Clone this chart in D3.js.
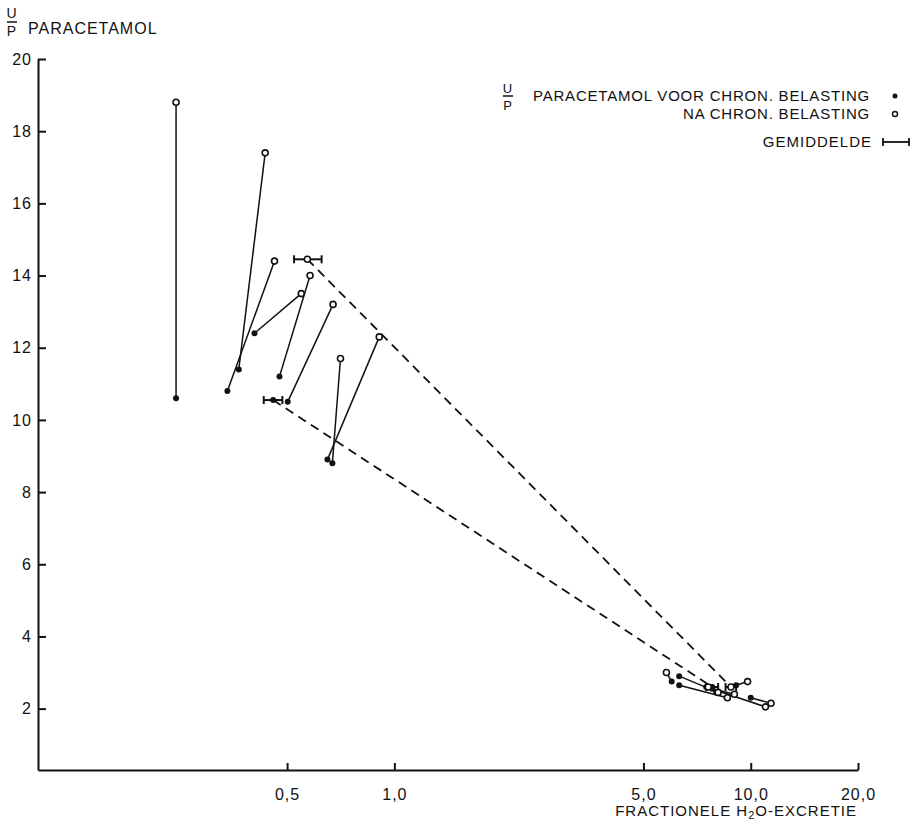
<!DOCTYPE html>
<html lang="nl">
<head>
  <meta charset="UTF-8">
  <title>U/P paracetamol vs fractionele H2O-excretie</title>
  <script src="https://d3js.org/d3.v7.min.js"></script>
  <style>
    body { margin: 0; background: #fff; }
    text { font-family: "Liberation Sans", Arial, sans-serif; fill: #111; letter-spacing: 1px; }
    .axis path, .axis line { stroke: #111; stroke-width: 2; }
    .axis text { font-size: 16px; }
  </style>
</head>
<body>
  <div id="chart"></div>

  <script>
    // ticks
    const xTicks = [0.5, 1, 5, 10, 20];
    const xTickLabels = ["0,5", "1,0", "5,0", "10,0", "20,0"];
    const yTicks = [2, 4, 6, 8, 10, 12, 14, 16, 18, 20];

    // links: voor chron. belasting (dicht), na chron. belasting (open)
    const voorX = [0.244, 0.366, 0.340, 0.405, 0.476, 0.502, 0.670, 0.649];
    const voorY = [10.6, 11.4, 10.8, 12.4, 11.2, 10.5, 8.8, 8.9];
    const naX   = [0.244, 0.434, 0.461, 0.548, 0.580, 0.673, 0.706, 0.907];
    const naY   = [18.8, 17.4, 14.4, 13.5, 14.0, 13.2, 11.7, 12.3];

    // rechtse groep
    const voorX2 = [6.0, 6.3, 6.3, 7.5, 7.8, 8.0, 9.1, 10.0];
    const voorY2 = [2.75, 2.9, 2.65, 2.6, 2.55, 2.45, 2.65, 2.3];
    const naX2   = [5.8, 8.1, 8.6, 11.0, 9.0, 7.6, 9.8, 11.4];
    const naY2   = [3.0, 2.45, 2.3, 2.05, 2.4, 2.6, 2.75, 2.15];

    // gemiddelden [voor, na]
    const meanLeftX  = [0.457, 0.570];
    const meanLeftY  = [10.55, 14.45];
    const meanLeftLo = [0.430, 0.523];
    const meanLeftHi = [0.485, 0.625];
    const meanRightX  = [7.8, 8.8];
    const meanRightY  = [2.6, 2.6];
    const meanRightLo = [7.5, 8.5];
    const meanRightHi = [8.1, 9.1];

    const W = 914, H = 823;
    const svg = d3.select("#chart").append("svg")
                  .attr("width", W).attr("height", H)
                  .style("background", "#fff");

    const x = d3.scaleLog().domain([0.1, 20]).range([38, 858]);
    const y = d3.scaleLinear().domain([0.3, 20]).range([770, 59]);

    // assen
    svg.append("g").attr("class", "axis")
       .attr("transform", `translate(0,${y(0.3)})`)
       .call(d3.axisBottom(x).tickValues(xTicks)
               .tickFormat((d, i) => xTickLabels[i])
               .tickSizeInner(-7).tickSizeOuter(0).tickPadding(19));

    svg.append("g").attr("class", "axis")
       .attr("transform", `translate(${x(0.1)},0)`)
       .call(d3.axisLeft(y).tickValues(yTicks)
               .tickSizeInner(-8).tickSizeOuter(0).tickPadding(6));

    // as-titels
    const yt = svg.append("g").attr("transform", "translate(12,0)");
    yt.append("text").attr("x", 0).attr("y", 18).attr("text-anchor", "middle")
      .style("font-size", "14px").text("U");
    yt.append("line").attr("x1", -5).attr("x2", 5).attr("y1", 22).attr("y2", 22)
      .attr("stroke", "#111").attr("stroke-width", 1.5);
    yt.append("text").attr("x", 0).attr("y", 36).attr("text-anchor", "middle")
      .style("font-size", "14px").text("P");
    yt.append("text").attr("x", 16).attr("y", 34).style("font-size", "16px").text("PARACETAMOL");

    const xt = svg.append("text").attr("x", 857).attr("y", 816)
                  .attr("text-anchor", "end").style("font-size", "15px");
    xt.append("tspan").text("FRACTIONELE  H");
    xt.append("tspan").attr("dy", 3).style("font-size", "11px").text("2");
    xt.append("tspan").attr("dy", -3).text("O-EXCRETIE");

    // koppels
    const pairs = voorX.map((d, i) => ({x0: d, y0: voorY[i], x1: naX[i], y1: naY[i]}))
      .concat(voorX2.map((d, i) => ({x0: d, y0: voorY2[i], x1: naX2[i], y1: naY2[i]})));

    // gestreepte lijnen tussen gemiddelden
    [0, 1].forEach(i => {
      svg.append("line")
         .attr("x1", x(meanLeftX[i])).attr("y1", y(meanLeftY[i]))
         .attr("x2", x(meanRightX[i])).attr("y2", y(meanRightY[i]))
         .attr("stroke", "#111").attr("stroke-width", 1.8)
         .attr("stroke-dasharray", "9,6");
    });

    svg.selectAll(".pair").data(pairs).enter().append("line")
       .attr("x1", d => x(d.x0)).attr("y1", d => y(d.y0))
       .attr("x2", d => x(d.x1)).attr("y2", d => y(d.y1))
       .attr("stroke", "#111").attr("stroke-width", 1.5);

    // foutbalken gemiddelde
    const means = [0, 1].map(i => ({x: meanLeftX[i], y: meanLeftY[i], lo: meanLeftLo[i], hi: meanLeftHi[i]}))
      .concat([0, 1].map(i => ({x: meanRightX[i], y: meanRightY[i], lo: meanRightLo[i], hi: meanRightHi[i]})));

    const mg = svg.selectAll(".mean").data(means).enter().append("g");
    mg.append("line").attr("x1", d => x(d.lo)).attr("x2", d => x(d.hi))
      .attr("y1", d => y(d.y)).attr("y2", d => y(d.y))
      .attr("stroke", "#111").attr("stroke-width", 2);
    mg.append("line").attr("x1", d => x(d.lo)).attr("x2", d => x(d.lo))
      .attr("y1", d => y(d.y) - 4).attr("y2", d => y(d.y) + 4)
      .attr("stroke", "#111").attr("stroke-width", 2);
    mg.append("line").attr("x1", d => x(d.hi)).attr("x2", d => x(d.hi))
      .attr("y1", d => y(d.y) - 4).attr("y2", d => y(d.y) + 4)
      .attr("stroke", "#111").attr("stroke-width", 2);

    // punten
    const allVoor = voorX.map((d, i) => [d, voorY[i]]).concat(voorX2.map((d, i) => [d, voorY2[i]]))
      .concat([[meanLeftX[0], meanLeftY[0]], [meanRightX[0], meanRightY[0]]]);
    const allNa = naX.map((d, i) => [d, naY[i]]).concat(naX2.map((d, i) => [d, naY2[i]]))
      .concat([[meanLeftX[1], meanLeftY[1]], [meanRightX[1], meanRightY[1]]]);

    svg.selectAll(".voor").data(allVoor).enter().append("circle")
       .attr("cx", d => x(d[0])).attr("cy", d => y(d[1])).attr("r", 3)
       .attr("fill", "#111");
    svg.selectAll(".na").data(allNa).enter().append("circle")
       .attr("cx", d => x(d[0])).attr("cy", d => y(d[1])).attr("r", 3)
       .attr("fill", "#fff").attr("stroke", "#111").attr("stroke-width", 1.6);

    // legenda
    const lg = svg.append("g");
    lg.append("text").attr("x", 508).attr("y", 93).attr("text-anchor", "middle")
      .style("font-size", "13px").text("U");
    lg.append("line").attr("x1", 503).attr("x2", 513).attr("y1", 96).attr("y2", 96)
      .attr("stroke", "#111").attr("stroke-width", 1.5);
    lg.append("text").attr("x", 508).attr("y", 110).attr("text-anchor", "middle")
      .style("font-size", "13px").text("P");
    lg.append("text").attr("x", 870).attr("y", 101).attr("text-anchor", "end")
      .style("font-size", "15px").style("letter-spacing", "0.8px")
      .text("PARACETAMOL  VOOR  CHRON. BELASTING");
    lg.append("text").attr("x", 870).attr("y", 119).attr("text-anchor", "end")
      .style("font-size", "15px").style("letter-spacing", "0.8px")
      .text("NA  CHRON. BELASTING");
    lg.append("circle").attr("cx", 895).attr("cy", 96).attr("r", 2.5).attr("fill", "#111");
    lg.append("circle").attr("cx", 895).attr("cy", 114).attr("r", 2.5)
      .attr("fill", "#fff").attr("stroke", "#111").attr("stroke-width", 1.4);
    lg.append("text").attr("x", 872).attr("y", 147).attr("text-anchor", "end")
      .style("font-size", "15px").text("GEMIDDELDE");
    lg.append("line").attr("x1", 883).attr("x2", 909).attr("y1", 142).attr("y2", 142)
      .attr("stroke", "#111").attr("stroke-width", 1.8);
    lg.append("line").attr("x1", 883).attr("x2", 883).attr("y1", 138).attr("y2", 146)
      .attr("stroke", "#111").attr("stroke-width", 1.8);
    lg.append("line").attr("x1", 909).attr("x2", 909).attr("y1", 138).attr("y2", 146)
      .attr("stroke", "#111").attr("stroke-width", 1.8);
  </script>
</body>
</html>
